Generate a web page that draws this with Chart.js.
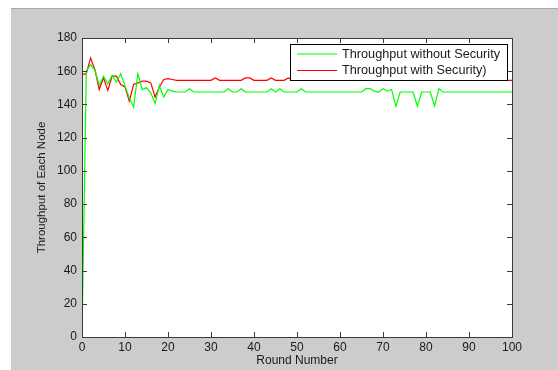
<!DOCTYPE html>
<html>
<head>
<meta charset="utf-8">
<title>Throughput</title>
<script src="https://cdn.jsdelivr.net/npm/chart.js@4.4.1/dist/chart.umd.min.js"></script>
<style>
    html, body { margin: 0; padding: 0; background: #ffffff; }
    #line { position: absolute; left: 11px; top: 8px; width: 547px; height: 1px; background: #a8a8a8; }
    #panel { position: absolute; left: 11px; top: 9px; width: 547px; height: 361px; background: #cccccc; }
    #chart { position: absolute; left: 0; top: 0; }
</style>
</head>
<body>
<div id="line"></div>
<div id="panel"></div>
<canvas id="chart" width="558" height="370"></canvas>
<script>
const rounds = [
    0, 1, 2, 3, 4, 5, 6, 7, 8, 9, 10, 11, 12, 13, 14, 15, 16, 17, 18, 19,
    20, 21, 22, 23, 24, 25, 26, 27, 28, 29, 30, 31, 32, 33, 34, 35, 36, 37, 38, 39,
    40, 41, 42, 43, 44, 45, 46, 47, 48, 49, 50, 51, 52, 53, 54, 55, 56, 57, 58, 59,
    60, 61, 62, 63, 64, 65, 66, 67, 68, 69, 70, 71, 72, 73, 74, 75, 76, 77, 78, 79,
    80, 81, 82, 83, 84, 85, 86, 87, 88, 89, 90, 91, 92, 93, 94, 95, 96, 97, 98, 99,
    100
];

// Throughput without Security (green)
const withoutSecurity = [
    0, 160, 164, 160.5, 151.5, 157, 152.5, 157.5, 153.5, 158.5,
    151, 144, 138.5, 158.5, 149, 150, 147, 140.5, 151.5, 144.5,
    149, 148, 147.5, 147.5, 147.5, 149.5, 147.5, 147.5, 147.5, 147.5,
    147.5, 147.5, 147.5, 147.5, 149.5, 147.5, 147.5, 149.5, 147.5, 147.5,
    147.5, 147.5, 147.5, 147.5, 149.5, 147.5, 149.5, 147.5, 147.5, 147.5,
    147.5, 149.5, 147.5, 147.5, 147.5, 147.5, 147.5, 147.5, 147.5, 147.5,
    147.5, 147.5, 147.5, 147.5, 147.5, 147.5, 149.5, 149.5, 148, 147.5,
    149.5, 148, 149, 139, 147.5, 147.5, 147.5, 147.5, 139, 147.5,
    147.5, 147.5, 139, 149.5, 147.5, 147.5, 147.5, 147.5, 147.5, 147.5,
    147.5, 147.5, 147.5, 147.5, 147.5, 147.5, 147.5, 147.5, 147.5, 147.5,
    147.5
];

// Throughput with Security (red)
const withSecurity = [
    158, 158.5, 168, 161, 149, 156, 148.5, 157, 157, 152,
    150.5, 142, 152, 153, 154, 154, 153, 144.5, 150.5, 155,
    155.5, 155, 154.5, 154.5, 154.5, 154.5, 154.5, 154.5, 154.5, 154.5,
    154.5, 156, 154.5, 154.5, 154.5, 154.5, 154.5, 154.5, 156, 156,
    154.5, 154.5, 154.5, 154.5, 156, 154.5, 154.5, 154.5, 156, 154.5,
    154.5, 154.5, 154.5, 154.5, 154.5, 154.5, 154.5, 154.5, 154.5, 154.5,
    154.5, 154.5, 154.5, 154.5, 154.5, 154.5, 154.5, 154.5, 154.5, 154.5,
    154.5, 154.5, 154.5, 154.5, 154.5, 154.5, 154.5, 154.5, 154.5, 154.5,
    154.5, 154.5, 154.5, 154.5, 154.5, 154.5, 154.5, 154.5, 154.5, 154.5,
    154.5, 154.5, 154.5, 154.5, 154.5, 154.5, 154.5, 154.5, 154.5, 154.5,
    154.5
];

const seriesLabels = ['Throughput without Security', 'Throughput with Security)'];
const seriesColors = ['#00ff00', '#ff0000'];

const FONT = '"Liberation Sans", Arial, sans-serif';
const TICK_LEN = 5;

function toPoints(values) {
    return rounds.map((r, i) => ({ x: r, y: values[i] }));
}

// white plot area, MATLAB style box with inward ticks, boxed legend on top
const matlabAxes = {
    id: 'matlabAxes',
    beforeDatasetsDraw(chart) {
        const { ctx, chartArea: a } = chart;
        ctx.save();
        ctx.fillStyle = '#ffffff';
        ctx.fillRect(a.left, a.top, a.right - a.left, a.bottom - a.top);
        ctx.restore();
    },
    afterDatasetsDraw(chart) {
        const { ctx, chartArea: a, scales: { x, y } } = chart;
        ctx.save();
        ctx.strokeStyle = '#3a3a3a';
        ctx.lineWidth = 1;
        ctx.beginPath();
        x.ticks.forEach(t => {
            const px = Math.round(x.getPixelForValue(t.value)) + 0.5;
            ctx.moveTo(px, a.bottom);
            ctx.lineTo(px, a.bottom - TICK_LEN);
            ctx.moveTo(px, a.top);
            ctx.lineTo(px, a.top + TICK_LEN);
        });
        y.ticks.forEach(t => {
            const py = Math.round(y.getPixelForValue(t.value)) + 0.5;
            ctx.moveTo(a.left, py);
            ctx.lineTo(a.left + TICK_LEN, py);
            ctx.moveTo(a.right, py);
            ctx.lineTo(a.right - TICK_LEN, py);
        });
        ctx.stroke();
        ctx.strokeRect(a.left + 0.5, a.top + 0.5, a.right - a.left, a.bottom - a.top);

        // legend
        ctx.font = '12.7px ' + FONT;
        const textW = Math.max(...seriesLabels.map(s => ctx.measureText(s).width));
        const boxW = 52 + textW + 7;
        const boxH = 36;
        const bx = a.right - 5 - boxW;
        const by = a.top + 6;
        ctx.fillStyle = '#ffffff';
        ctx.fillRect(bx, by, boxW, boxH);
        ctx.strokeStyle = '#000000';
        ctx.strokeRect(Math.round(bx) + 0.5, by + 0.5, Math.round(boxW), boxH);
        seriesLabels.forEach((label, i) => {
            const ly = by + 10 + i * 16.5;
            ctx.strokeStyle = seriesColors[i];
            ctx.lineWidth = 1.2;
            ctx.beginPath();
            ctx.moveTo(bx + 7, ly);
            ctx.lineTo(bx + 47, ly);
            ctx.stroke();
            ctx.fillStyle = '#1a1a1a';
            ctx.textBaseline = 'middle';
            ctx.textAlign = 'left';
            ctx.fillText(label, bx + 52, ly);
        });
        ctx.restore();
    }
};

new Chart(document.getElementById('chart'), {
    type: 'line',
    data: {
        datasets: [
            {
                label: seriesLabels[0],
                data: toPoints(withoutSecurity),
                borderColor: seriesColors[0],
                borderWidth: 1.2,
                pointRadius: 0,
                tension: 0,
            },
            {
                label: seriesLabels[1],
                data: toPoints(withSecurity),
                borderColor: seriesColors[1],
                borderWidth: 1.2,
                pointRadius: 0,
                tension: 0,
            },
        ],
    },
    options: {
        responsive: false,
        devicePixelRatio: 1,
        animation: false,
        layout: { padding: { top: 38, right: 46, left: 0, bottom: 0 } },
        plugins: {
            legend: { display: false },
            tooltip: { enabled: false },
        },
        scales: {
            x: {
                type: 'linear',
                min: 0,
                max: 100,
                ticks: {
                    stepSize: 10,
                    padding: 3,
                    color: '#1a1a1a',
                    font: { family: FONT, size: 12 },
                    maxRotation: 0,
                },
                grid: { display: false, drawTicks: false },
                border: { display: false },
                title: {
                    display: true,
                    text: 'Round Number',
                    color: '#1a1a1a',
                    font: { family: FONT, size: 12 },
                    padding: { top: 0, bottom: 2 },
                },
                afterFit(scale) { scale.height = 33; },
            },
            y: {
                min: 0,
                max: 180,
                ticks: {
                    stepSize: 20,
                    padding: 5,
                    color: '#1a1a1a',
                    font: { family: FONT, size: 12 },
                },
                grid: { display: false, drawTicks: false },
                border: { display: false },
                title: {
                    display: true,
                    text: 'Throughput of Each Node',
                    color: '#1a1a1a',
                    font: { family: FONT, size: 11.5 },
                    padding: { top: 35, bottom: 0 },
                },
                afterFit(scale) { scale.width = 82; },
            },
        },
    },
    plugins: [matlabAxes],
});
</script>
</body>
</html>
